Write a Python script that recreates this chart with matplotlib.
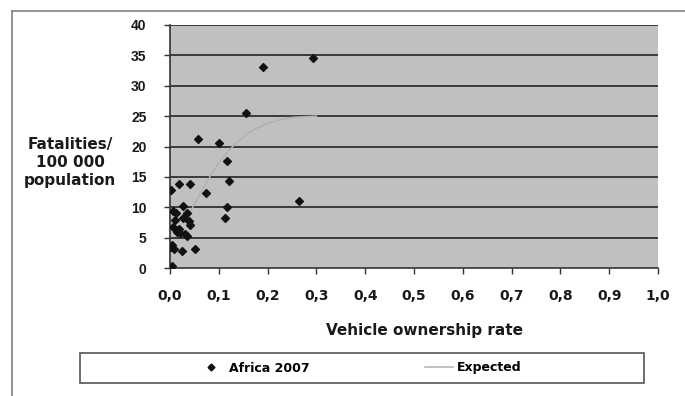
import numpy as np
import matplotlib
matplotlib.use('Agg')
import matplotlib.pyplot as plt
from matplotlib.lines import Line2D
from matplotlib.patches import Rectangle

# Africa 2007: vehicle ownership rate vs fatalities per 100 000 population
own = [0.294, 0.191, 0.155, 0.058, 0.101, 0.116, 0.121, 0.073, 0.265, 0.117,
       0.113, 0.052, 0.002, 0.019, 0.040, 0.026, 0.007, 0.012, 0.034, 0.038,
       0.010, 0.027, 0.007, 0.014, 0.020, 0.031, 0.034, 0.005, 0.008, 0.024,
       0.004, 0.003, 0.041, 0.018]
fat = [34.6, 33.1, 25.5, 21.2, 20.5, 17.6, 14.4, 12.3, 11.1, 10.0,
       8.3, 3.1, 12.9, 13.8, 13.8, 10.2, 9.4, 9.1, 9.0, 7.8,
       7.9, 8.3, 6.8, 6.0, 5.7, 5.6, 5.3, 3.8, 3.2, 2.8,
       0.4, 3.5, 7.0, 6.5]

# expected curve
exp_x = [0.04, 0.06, 0.08, 0.10, 0.12, 0.14, 0.16, 0.18, 0.20, 0.22, 0.25, 0.30]
exp_y = [9.0, 12.0, 14.8, 17.3, 19.3, 20.9, 22.2, 23.1, 23.8, 24.3, 24.8, 25.0]

xticks = [round(0.1 * i, 1) for i in range(11)]
yticks = list(range(0, 45, 5))

WIDE = 'DejaVu Sans'
NARROW = 'Liberation Sans'
DARK = '#1a1a1a'
W, H = 685, 396

fig = plt.figure(figsize=(6.85, 3.96), dpi=100)
fig.patch.set_facecolor('white')

# outer chart frame (only top and left visible)
fig.add_artist(Line2D([12/W, 12/W], [0, 1 - 11/H], transform=fig.transFigure,
                      color='#808080', lw=1.2))
fig.add_artist(Line2D([12/W, 1], [1 - 11/H, 1 - 11/H], transform=fig.transFigure,
                      color='#808080', lw=1.2))

ax = fig.add_axes([170/W, 1 - 268/H, 488/W, 243/H])
ax.set_facecolor('#c0c0c0')

for yv in yticks[1:]:
    ax.axhline(yv, color='#3a3a3a', lw=1.4, zorder=1)

ax.plot(exp_x, exp_y, color='#b0b0b0', lw=1.1, zorder=2)
ax.scatter(own, fat, marker='D', s=16, color='#111111', zorder=3)

ax.set_xlim(0, 1)
ax.set_ylim(0, 40)
ax.set_xticks(xticks)
ax.set_xticklabels([f'{v:.1f}'.replace('.', ',') for v in xticks])
ax.set_yticks(yticks)
ax.tick_params(axis='both', direction='out', length=4, width=1, color='#333333',
               labelsize=10, labelcolor=DARK)
ax.tick_params(axis='x', pad=11)
ax.tick_params(axis='y', pad=13)
for lab in ax.get_xticklabels():
    lab.set_fontfamily(WIDE)
    lab.set_fontweight('bold')
for lab in ax.get_yticklabels():
    lab.set_fontfamily(NARROW)
    lab.set_fontweight('bold')

for side in ['top', 'right']:
    ax.spines[side].set_visible(False)
for side in ['left', 'bottom']:
    ax.spines[side].set_color('#333333')
    ax.spines[side].set_linewidth(1.2)

fig.text(70/W, 1 - 162/H, 'Fatalities/\n100 000\npopulation', ha='center', va='center',
         fontsize=11, fontweight='bold', family=WIDE, color=DARK, linespacing=1.25)
fig.text(425/W, 1 - 331/H, 'Vehicle ownership rate', ha='center', va='center',
         fontsize=11, fontweight='bold', family=WIDE, color=DARK)

# legend: box drawn separately, entries laid out inside it
fig.add_artist(Rectangle((80/W, 1 - 383/H), 564/W, 30/H, transform=fig.transFigure,
                         fill=False, edgecolor='#555555', lw=1.2))
h1 = Line2D([], [], marker='D', linestyle='none', color='#111111', markersize=3.5)
h2 = Line2D([], [], color='#b0b0b0', lw=1.1)
leg = fig.legend([h1, h2], ['Africa 2007', 'Expected'], ncol=2,
                 loc='center left', bbox_to_anchor=(197/W, 1 - 368/H),
                 frameon=False, handlelength=2.3, handletextpad=0.25,
                 columnspacing=9.2, borderpad=0, borderaxespad=0,
                 prop={'family': WIDE, 'size': 9, 'weight': 'bold'})

fig.savefig('out.png', dpi=100, facecolor='white')
